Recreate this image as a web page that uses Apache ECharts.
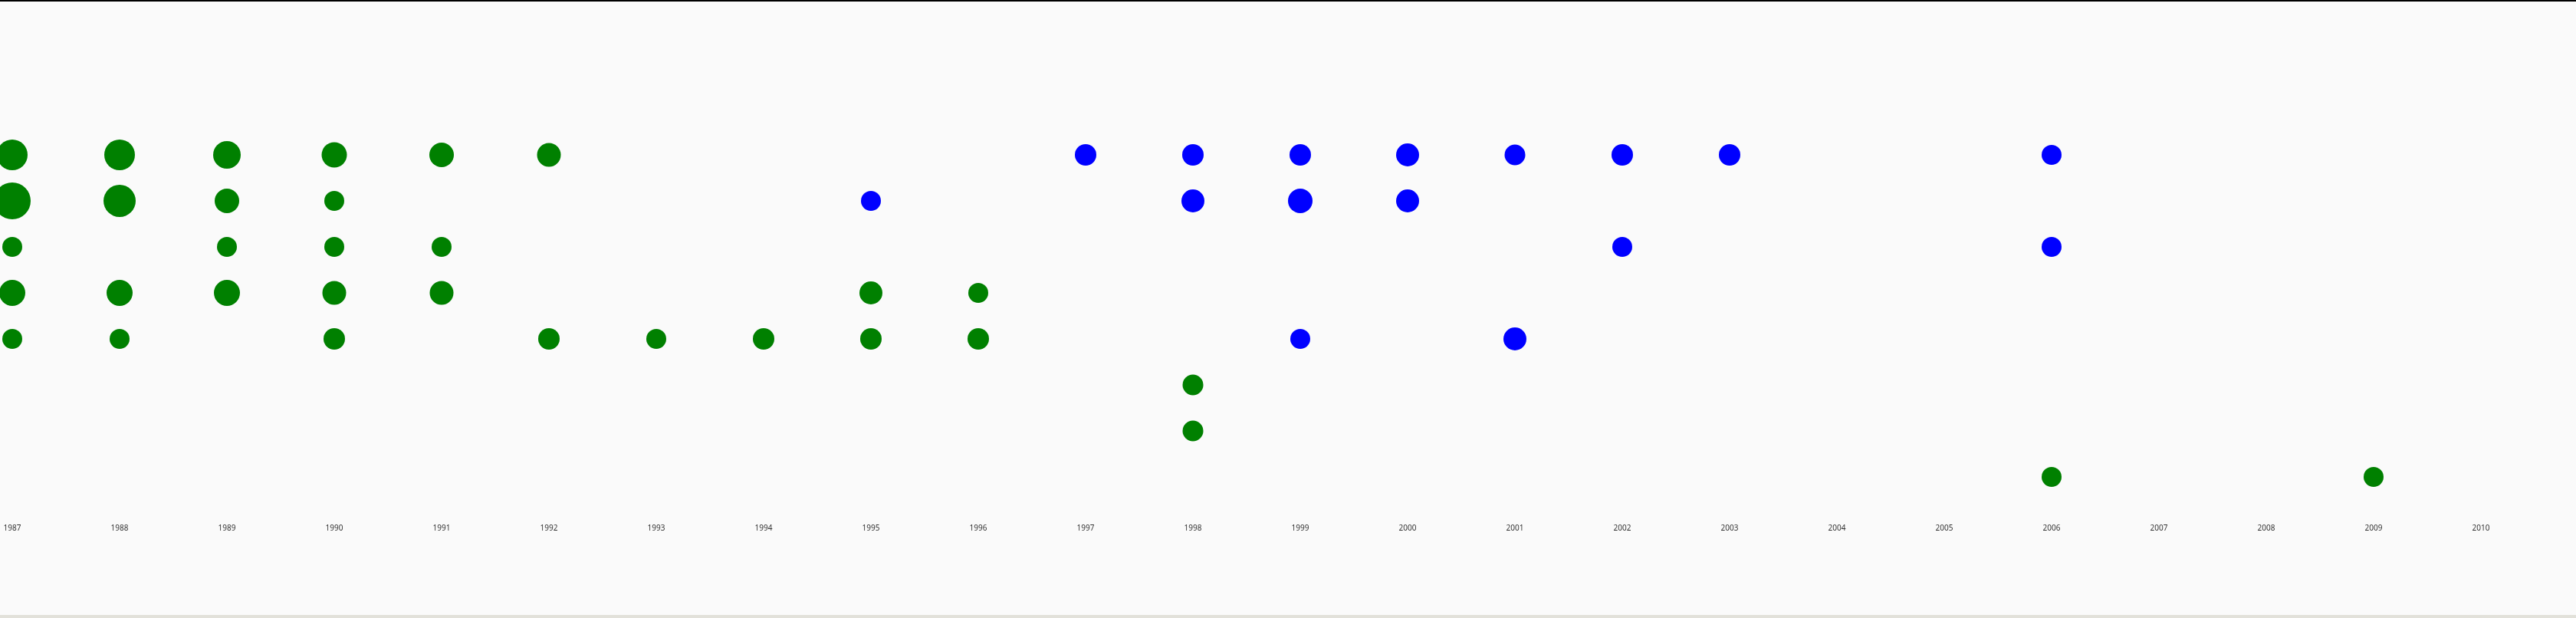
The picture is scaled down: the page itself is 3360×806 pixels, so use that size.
<!DOCTYPE html>
<html>
<head>
<meta charset="utf-8">
<script src="https://cdn.jsdelivr.net/npm/echarts@6/dist/echarts.min.js"></script>
<style>
html,body{margin:0;padding:0;background:#fafafa;}
#chart{width:3360px;height:806px;}
</style>
</head>
<body>
<div id="chart"></div>
<script>
// Tick labels / categories along the x axis
var years = ['1987','1988','1989','1990','1991','1992','1993','1994','1995','1996','1997','1998',
             '1999','2000','2001','2002','2003','2004','2005','2006','2007','2008','2009','2010'];

// Green series: [year, row (1 = bottom, 8 = top), count]
var greenPoints = [
  ['1987',8,16],['1988',8,16],['1989',8,12],['1990',8,9],['1991',8,8],['1992',8,7],
  ['1987',7,24],['1988',7,18],['1989',7,8],['1990',7,2],
  ['1987',6,2],['1989',6,2],['1990',6,2],['1991',6,2],
  ['1987',5,10],['1988',5,10],['1989',5,10],['1990',5,7],['1991',5,7],['1995',5,6],['1996',5,2],
  ['1987',4,2],['1988',4,2],['1990',4,4],['1992',4,4],['1993',4,2],['1994',4,4],['1995',4,4],['1996',4,4],
  ['1998',3,3],
  ['1998',2,3],
  ['2006',1,2],['2009',1,2]
];

// Blue series: [year, row, count]
var bluePoints = [
  ['1997',8,4],['1998',8,4],['1999',8,4],['2000',8,6],['2001',8,3],['2002',8,4],['2003',8,4],['2006',8,2],
  ['1995',7,2],['1998',7,6],['1999',7,8],['2000',7,6],
  ['2002',6,2],['2006',6,2],
  ['1999',4,2],['2001',4,6]
];

var chart = echarts.init(document.getElementById('chart'), null, {renderer:'canvas'});
function sizeOf(d){ return 24 + d[2]; }
chart.setOption({
  backgroundColor:'#fafafa',
  animation:false,
  grid:{left:16, right:124, top:142, bottom:124},
  xAxis:{
    type:'category',
    data:years,
    boundaryGap:false,
    axisLine:{show:false},
    axisTick:{show:false},
    splitLine:{show:false},
    axisLabel:{margin:2, fontSize:10, color:'#333', fontFamily:'Noto Sans', interval:0}
  },
  yAxis:{
    type:'value', min:0, max:9, interval:1,
    show:false
  },
  series:[
    {type:'scatter', data:greenPoints, symbolSize:sizeOf, clip:false,
     itemStyle:{color:'#008000', opacity:1}},
    {type:'scatter', data:bluePoints, symbolSize:sizeOf, clip:false,
     itemStyle:{color:'#0000ff', opacity:1}}
  ],
  graphic:[
    {type:'rect', left:0, top:0, shape:{width:3360, height:2}, style:{fill:'#000'}, silent:true},
    {type:'rect', left:0, top:802, shape:{width:3360, height:4}, style:{fill:'#e2e1da'}, silent:true}
  ]
});
</script>
</body>
</html>
